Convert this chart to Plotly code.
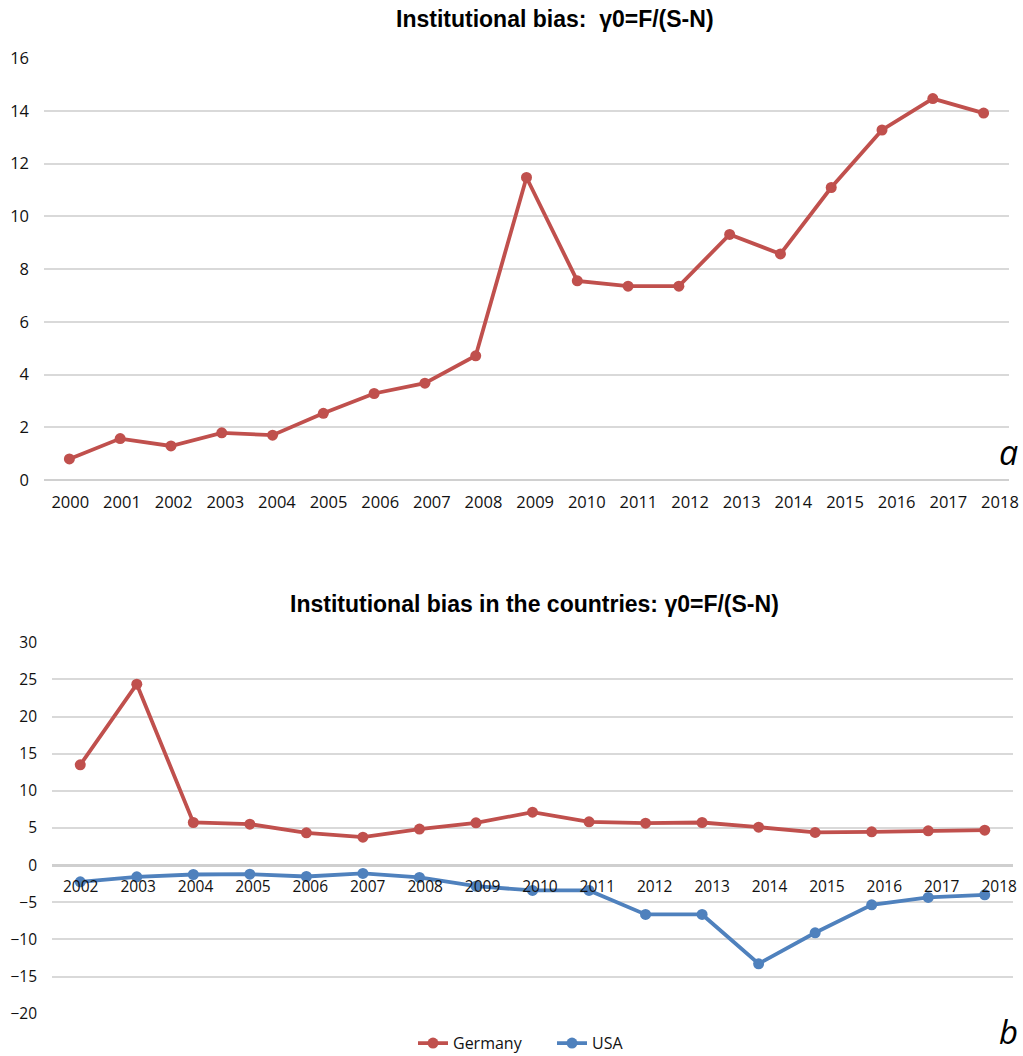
import plotly.graph_objects as go

# ---- data ----
years_a = [2000, 2001, 2002, 2003, 2004, 2005, 2006, 2007, 2008, 2009,
           2010, 2011, 2012, 2013, 2014, 2015, 2016, 2017, 2018]
bias_a = [0.80, 1.57, 1.29, 1.79, 1.70, 2.53, 3.28, 3.67, 4.71, 11.47,
          7.55, 7.35, 7.35, 9.31, 8.57, 11.09, 13.27, 14.46, 13.91]

years_b = [2002, 2003, 2004, 2005, 2006, 2007, 2008, 2009, 2010,
           2011, 2012, 2013, 2014, 2015, 2016, 2017, 2018]
germany_b = [13.5, 24.36, 5.74, 5.52, 4.35, 3.77, 4.85, 5.69, 7.13,
             5.83, 5.65, 5.74, 5.11, 4.40, 4.49, 4.62, 4.71]
usa_b = [-2.24, -1.57, -1.26, -1.21, -1.53, -1.12, -1.66, -2.83, -3.41,
         -3.41, -6.64, -6.64, -13.28, -9.11, -5.34, -4.35, -4.00]

title_a = "Institutional bias:  γ0=F/(S-N)"
title_b = "Institutional bias in the countries: γ0=F/(S-N)"

# ---- styling ----
RED = "#C0504D"
BLUE = "#4F81BD"
GRID = "#D9D9D9"
W, H = 1023, 1056
TICK_FONT = "Open Sans, Noto Sans, sans-serif"
TITLE_FONT = "Liberation Sans, Arial, sans-serif"

# plot areas in pixels (left, right, top, bottom)
A_BOX = (44, 1009, 58, 480)
B_BOX = (52, 1013, 642.3, 1013.7)
A_YRANGE = [0, 16]
B_YRANGE = [-20, 30]


def xdom(box):
    return [box[0] / W, box[1] / W]


def ydom(box):
    return [1 - box[3] / H, 1 - box[2] / H]


def label_positions(years, offset, pitch):
    # year labels sit on a slightly wider pitch than the category slots
    return [years[0] + offset + i * pitch for i in range(len(years))]


fig = go.Figure()

line_style = dict(width=3.8)
marker_style = dict(size=11)

fig.add_trace(go.Scatter(
    x=years_a, y=bias_a, mode="lines+markers", name="Germany",
    line=dict(color=RED, **line_style), marker=dict(color=RED, **marker_style),
    xaxis="x", yaxis="y", showlegend=False, cliponaxis=False))

fig.add_trace(go.Scatter(
    x=years_b, y=germany_b, mode="lines+markers", name="Germany",
    line=dict(color=RED, **line_style), marker=dict(color=RED, **marker_style),
    xaxis="x2", yaxis="y2", cliponaxis=False))

fig.add_trace(go.Scatter(
    x=years_b, y=usa_b, mode="lines+markers", name="USA",
    line=dict(color=BLUE, **line_style), marker=dict(color=BLUE, **marker_style),
    xaxis="x2", yaxis="y2", cliponaxis=False))

# the category axis of panel b crosses the value axis at zero
b_dom = ydom(B_BOX)
zero_pos = b_dom[0] + (0 - B_YRANGE[0]) / (B_YRANGE[1] - B_YRANGE[0]) * (b_dom[1] - b_dom[0])

fig.update_layout(
    width=W, height=H,
    margin=dict(l=0, r=0, t=0, b=0, pad=0, autoexpand=False),
    paper_bgcolor="white", plot_bgcolor="white",
    font=dict(family=TICK_FONT, color="#111111"),
    xaxis=dict(
        domain=xdom(A_BOX), anchor="y",
        range=[years_a[0] - 0.5, years_a[-1] + 0.5],
        tickmode="array",
        tickvals=label_positions(years_a, 0.018, 1.0169),
        ticktext=[str(y) for y in years_a],
        showgrid=False, zeroline=False, showline=False, ticks="",
        tickfont=dict(size=16.5), ticklabelstandoff=10,
    ),
    yaxis=dict(
        domain=ydom(A_BOX), anchor="x",
        range=A_YRANGE, dtick=2, tick0=0,
        showgrid=True, gridcolor=GRID, gridwidth=1.5,
        zeroline=True, zerolinecolor="#D0D0D0", zerolinewidth=2,
        showline=False, ticks="",
        tickfont=dict(size=16.5), ticklabelstandoff=14,
    ),
    xaxis2=dict(
        domain=xdom(B_BOX), anchor="free", position=zero_pos,
        range=[years_b[0] - 0.5, years_b[-1] + 0.5],
        tickmode="array",
        tickvals=label_positions(years_b, 0.008, 1.0154),
        ticktext=[str(y) for y in years_b],
        showgrid=False, zeroline=False, showline=False, ticks="",
        tickfont=dict(size=15.5), ticklabelstandoff=10,
    ),
    yaxis2=dict(
        domain=ydom(B_BOX), anchor="x2",
        range=B_YRANGE, dtick=5, tick0=0,
        showgrid=True, gridcolor=GRID, gridwidth=1.5,
        zeroline=True, zerolinecolor="#CFCFCF", zerolinewidth=2.5,
        showline=False, ticks="",
        tickfont=dict(size=15.5), ticklabelstandoff=14,
    ),
    legend=dict(
        orientation="h", x=413 / W, xanchor="left", y=-0.004, yanchor="bottom",
        font=dict(size=16, family=TICK_FONT), bgcolor="rgba(0,0,0,0)",
        itemwidth=30, entrywidth=94, entrywidthmode="pixels",
        tracegroupgap=0,
    ),
    showlegend=True,
)

annotations = [
    dict(text=f"<b>{title_a}</b>", x=555 / W, y=1 - 19 / H,
         font=dict(family=TITLE_FONT, size=23, color="black")),
    dict(text=f"<b>{title_b}</b>", x=534 / W, y=1 - 604 / H,
         font=dict(family=TITLE_FONT, size=23, color="black")),
    dict(text="<i>a</i>", x=1020 / W, y=1 - 452 / H, xanchor="right",
         font=dict(family="Open Sans", size=34, color="black")),
    dict(text="<i>b</i>", x=1020 / W, y=0.0, xanchor="right", yanchor="bottom",
         font=dict(family="Open Sans", size=33, color="black")),
]
for a in annotations:
    a.update(xref="paper", yref="paper", showarrow=False)
    a.setdefault("xanchor", "center")
    a.setdefault("yanchor", "middle")
fig.update_layout(annotations=annotations)

fig.write_html("out.html")
